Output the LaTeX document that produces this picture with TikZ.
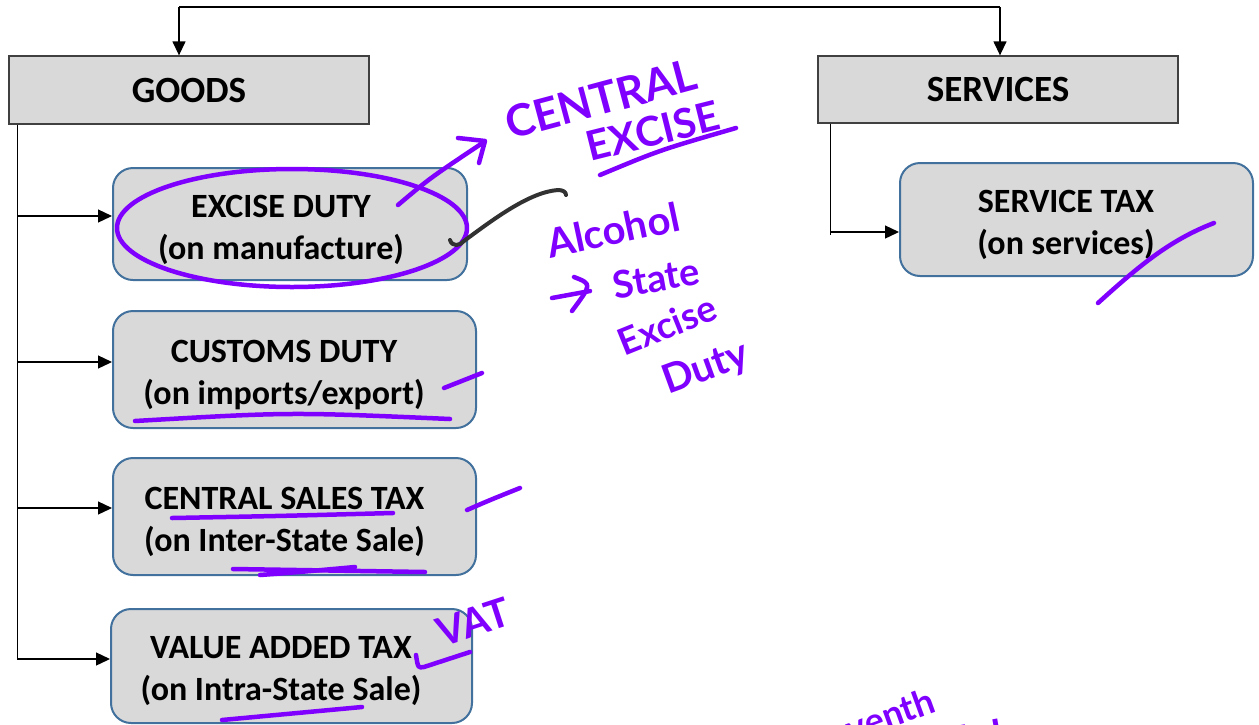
\documentclass[tikz,border=0pt]{standalone}
\usepackage{fontspec}
\setmainfont{Carlito}
\newfontfamily\handfont{Lato}
\usetikzlibrary{arrows.meta}
\definecolor{boxgray}{RGB}{217,217,217}
\definecolor{boxblue}{RGB}{65,113,156}
\definecolor{ink}{RGB}{127,0,255}
\definecolor{pencil}{RGB}{50,50,50}
\begin{document}
\begin{tikzpicture}[x=1pt,y=-1pt,
  catbox/.style={draw=black!75,line width=1.3pt,fill=boxgray,minimum width=360pt,minimum height=68pt,inner sep=0pt,font=\fontsize{37}{40}\selectfont\bfseries},
  taxbox/.style={draw=boxblue,line width=2pt,fill=boxgray,rounded corners=20pt,inner sep=0pt},
  boxtxt/.style={align=center,inner sep=0pt,font=\fontsize{34}{42}\selectfont\bfseries},
  conn/.style={line width=1.3pt,draw=black},
  arr/.style={conn,-{Triangle[length=14pt,width=13pt]}},
  pen/.style={draw=ink,line width=4.5pt,line cap=round,line join=round},
  pencilline/.style={draw=pencil,line width=4pt,line cap=round,line join=round},
  hand/.style={text=ink,inner sep=0pt,font=\handfont\bfseries\fontsize{#1}{#1}\selectfont},
  hand/.default=40
]
\useasboundingbox (0,0) rectangle (1259,724);
\clip (0,0) rectangle (1259,724);

% category boxes
\node[catbox] (goods) at (189,90) {GOODS};
\node[catbox,minimum height=67pt] (services) at (998,89.5) {SERVICES};

% tax boxes
\node[taxbox,minimum width=354pt,minimum height=112pt] (excise) at (290,224) {};
\node[boxtxt] (excise-t) at (281,230) {EXCISE DUTY\\(on manufacture)};
\node[taxbox,minimum width=363pt,minimum height=117pt] (customs) at (294.5,369.5) {};
\node[boxtxt] (customs-t) at (284,375) {CUSTOMS DUTY\\(on imports/export)};
\node[taxbox,minimum width=363pt,minimum height=117pt] (cst) at (294.5,516.5) {};
\node[boxtxt] (cst-t) at (284.5,522) {CENTRAL SALES TAX\\(on Inter-State Sale)};
\node[taxbox,minimum width=361pt,minimum height=114pt] (vat) at (291.5,666) {};
\node[boxtxt] (vat-t) at (281,671) {VALUE ADDED TAX\\(on Intra-State Sale)};
\node[taxbox,minimum width=353pt,minimum height=113pt] (service) at (1076.5,219.5) {};
\node[boxtxt] (service-t) at (1066,225) {SERVICE TAX\\(on services)};

% top connector
\coordinate (tl) at (179,7);
\coordinate (tr) at (1000,7);
\draw[conn] (tl) -- (tr);
\draw[arr] (tl) -- (tl |- goods.north);
\draw[arr] (tr) -- (tr |- services.north);

% goods branch
\coordinate (gtop) at ([xshift=9pt]goods.south west);
\coordinate (gbot) at (gtop |- 0,659);
\draw[conn] (gtop) -- (gbot);
\draw[arr] (gtop |- 0,216) -- (excise.west |- 0,216);
\draw[arr] (gtop |- 0,362) -- (customs.west |- 0,362);
\draw[arr] (gtop |- 0,508) -- (cst.west |- 0,508);
\draw[arr] (gbot) -- (vat.west |- gbot);

% services branch
\coordinate (stop) at ([xshift=13pt]services.south west);
\draw[conn] (stop) -- (stop |- 0,235);
\draw[arr] (stop |- 0,232) -- (service.west |- 0,232);

% ---- handwritten annotations ----
\draw[pen] (292,228) ellipse [x radius=175, y radius=59];
\draw[pen] (398,205) .. controls (430,178) .. (484,142);
\draw[pen] (458,138) -- (485,141) -- (479,163);
\node[hand=44,rotate=15] (h-central) at (601,99) {CENTRAL};
\node[hand=41,rotate=14] (h-excise) at (653,131) {EXCISE};
\draw[pen] (600,175) .. controls (660,150) .. (736,128);

\draw[pencilline] (450,240) .. controls (452,247) and (460,246) .. (464,241)
  .. controls (495,218) and (530,192) .. (558,190) .. controls (563,190) and (566,192) .. (566,195);

\node[hand=40,rotate=12] (h-alcohol) at (613,230) {Alcohol};
\draw[pen] (552,298) -- (590,291);
\draw[pen] (574,277) .. controls (592,284) .. (572,311);
\node[hand=38,rotate=10] (h-state) at (656,278) {State};
\node[hand=37,rotate=22] (h-excise2) at (667,325) {Excise};
\node[hand=40,rotate=20] (h-duty) at (706,369) {Duty};

% ticks and underlines
\draw[pen] (444,388) -- (482,373);
\draw[pen] (135,421) .. controls (290,412) .. (450,419);
\draw[pen] (467,510) .. controls (490,500) .. (520,488);
\draw[pen] (172,518) .. controls (280,516) .. (393,513);
\draw[pen] (233,569) -- (425,572);
\draw[pen] (260,575) .. controls (300,572) .. (355,567);
\node[hand=40,rotate=18] (h-vat) at (473,622) {VAT};
\draw[pen] (416,655) .. controls (418,668) .. (424,667) -- (470,652);
\draw[pen] (222,720) -- (362,707);
\draw[pen] (1098,303) .. controls (1140,265) and (1170,240) .. (1214,223);

% bottom (cut off)
\node[hand=36,rotate=20] (h-seventh) at (872,721) {Seventh};
\node[hand=40,rotate=10] (h-schedule) at (944,744) {Schedule};
\end{tikzpicture}
\end{document}
